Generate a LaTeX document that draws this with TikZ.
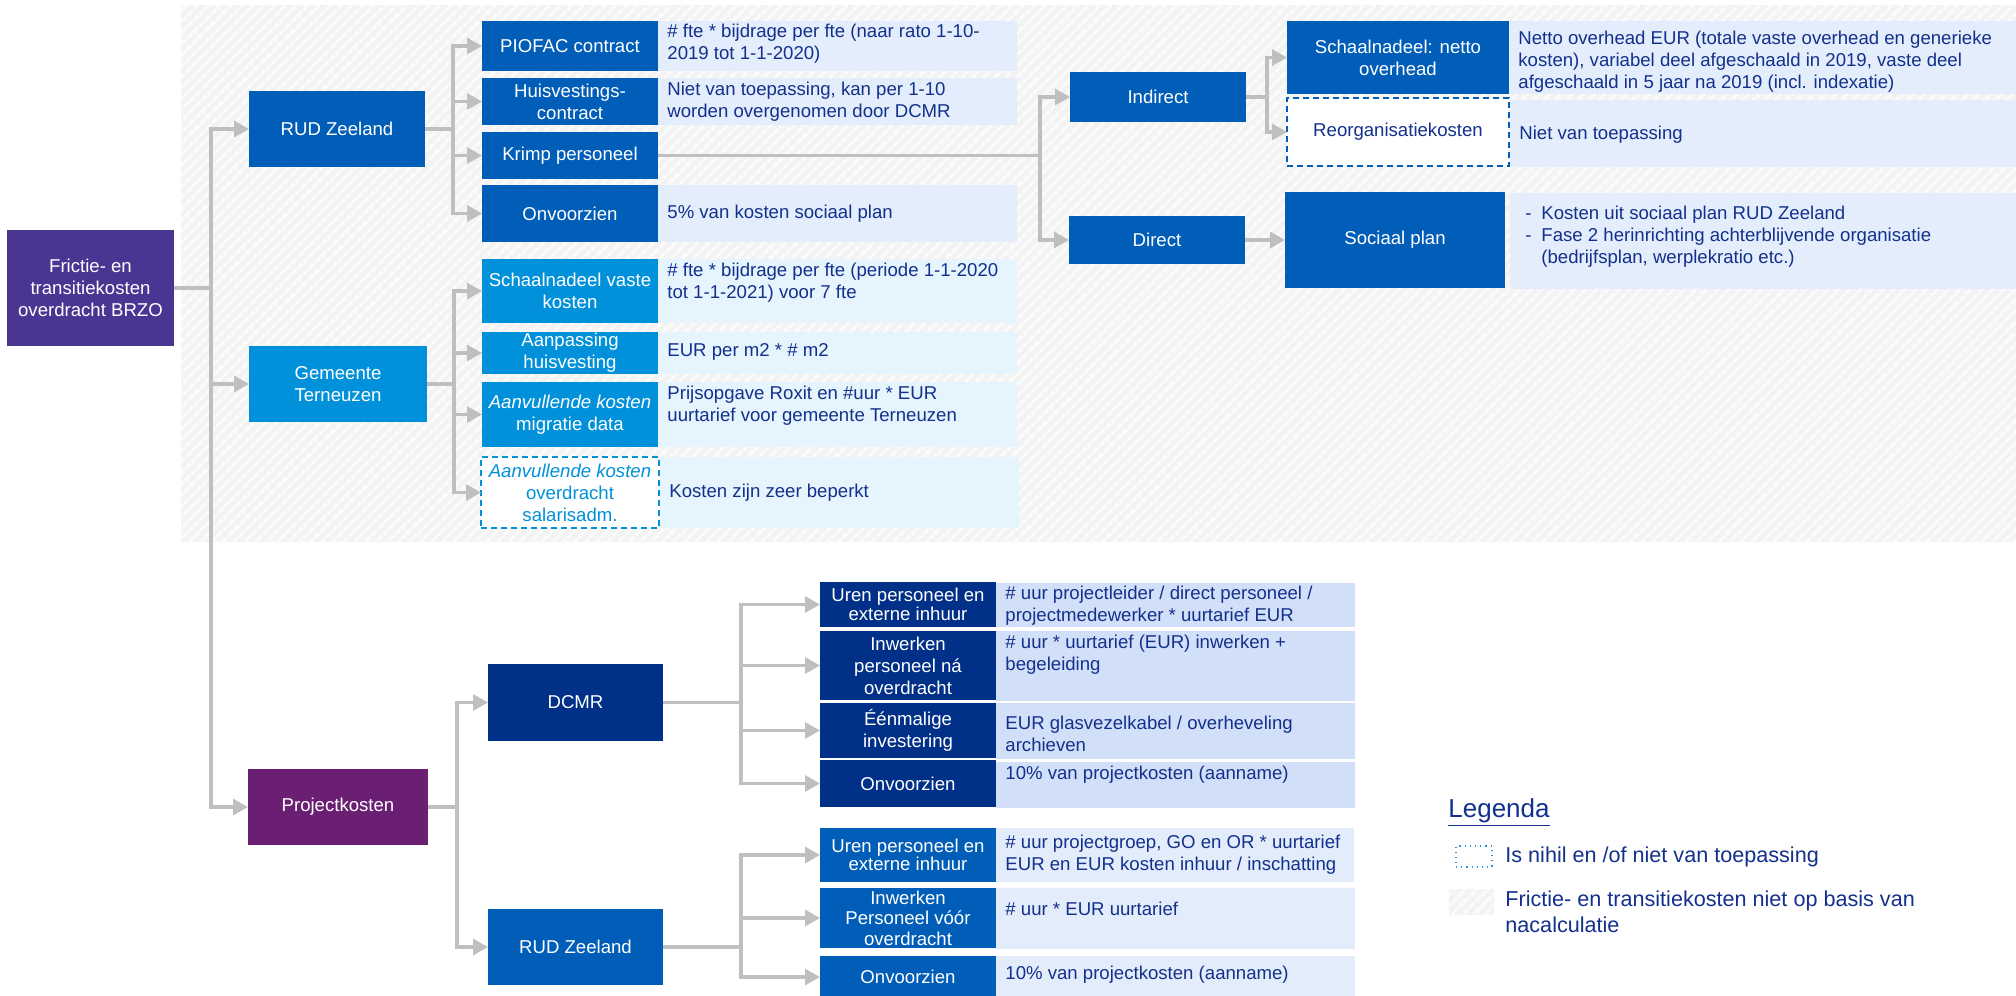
\documentclass[tikz,border=0pt]{standalone}
\usepackage{fontspec}
\setmainfont{Liberation Sans}
\usetikzlibrary{arrows.meta,patterns.meta,calc}
\definecolor{rootpurple}{HTML}{4A3592}
\definecolor{projpurple}{HTML}{6B1F73}
\definecolor{rudblue}{HTML}{005EB8}
\definecolor{gemblue}{HTML}{0091DA}
\definecolor{dcmrnavy}{HTML}{003087}
\definecolor{descA}{HTML}{E4EDFB}
\definecolor{descB}{HTML}{E5F4FD}
\definecolor{descC}{HTML}{D2DFF8}
\definecolor{descD}{HTML}{E3ECFB}
\definecolor{textnavy}{HTML}{13308C}
\definecolor{conngray}{HTML}{BFBFBF}
\definecolor{bggray}{HTML}{F3F3F3}
\definecolor{hatchlight}{HTML}{FBFBFB}
\definecolor{dashblue}{HTML}{2E8FDB}
\newcommand\bx[7]{%
  \pgfmathsetmacro\myW{(#4-#2)*0.5}%
  \pgfmathsetmacro\myH{(#5-#3)*0.5}%
  \node[#6, minimum width=\myW pt, minimum height=\myH pt] (#1) at ({(#2+#4)/2},{(#3+#5)/2}) {#7};}
\newcommand\dbox[8]{%
  \pgfmathsetmacro\myW{(#4-#2)*0.5}%
  \pgfmathsetmacro\myH{(#5-#3)*0.5}%
  \node[#6, minimum width=\myW pt, minimum height=\myH pt] (#1) at ({(#2+#4)/2},{(#3+#5)/2}) {};
  \node[dtext, anchor=west] (#1t) at ($(#1.west)+(9,#7)$) {#8};}
\begin{document}
\begin{tikzpicture}[x=0.5pt,y=-0.5pt,
  basebox/.style={rectangle, inner sep=0pt, outer sep=0pt, align=center, text=white,
    font=\fontsize{9.3}{11}\selectfont},
  tight/.style={font=\fontsize{9.3}{9.3}\selectfont},
  mid/.style={font=\fontsize{9.3}{10.2}\selectfont},
  rootbox/.style={basebox, fill=rootpurple},
  projbox/.style={basebox, fill=projpurple},
  rudbox/.style={basebox, fill=rudblue},
  gembox/.style={basebox, fill=gemblue},
  dcmrbox/.style={basebox, fill=dcmrnavy},
  dashgem/.style={basebox, fill=white, draw=gemblue, line width=0.9pt, dash pattern=on 3pt off 2pt, text=gemblue},
  dashrud/.style={basebox, fill=white, draw=rudblue, line width=0.9pt, dash pattern=on 3pt off 2pt, text=textnavy},
  dA/.style={rectangle, inner sep=0pt, outer sep=0pt, fill=descA},
  dB/.style={rectangle, inner sep=0pt, outer sep=0pt, fill=descB},
  dC/.style={rectangle, inner sep=0pt, outer sep=0pt, fill=descC},
  dD/.style={rectangle, inner sep=0pt, outer sep=0pt, fill=descD},
  dtext/.style={inner sep=0pt, align=left, text=textnavy, font=\fontsize{9.3}{11}\selectfont},
  conn/.style={draw=conngray, line width=1.6pt},
  arr/.style={conn, -{Triangle[length=7.5pt,width=8pt]}},
  legtext/.style={inner sep=0pt, align=left, text=textnavy, font=\fontsize{10.8}{13}\selectfont},
  hatchbg/.style={pattern={Lines[angle=45,distance=4pt,line width=1.6pt]}, pattern color=hatchlight},
  legdot/.style={rectangle, inner sep=0pt, outer sep=0pt, draw=dashblue, line width=0.6pt, dotted, fill=white},
  leghatch/.style={rectangle, inner sep=0pt, outer sep=0pt, fill=bggray, postaction={hatchbg}}
]
\useasboundingbox (0,0) rectangle (2016,995);
\fill[white] (0,0) rectangle (2016,995);
% hatched background
\fill[bggray] (181,5) rectangle (2016,542);
\fill[hatchbg] (181,5) rectangle (2016,542);

% main nodes
\bx{root}{7}{230}{174}{346}{rootbox}{Frictie- en\\transitiekosten\\overdracht BRZO}
\bx{rud}{249}{91}{425}{167}{rudbox}{RUD Zeeland}
\bx{gem}{249}{346}{427}{422}{gembox}{Gemeente\\Terneuzen}
\bx{proj}{248}{769}{428}{845}{projbox}{Projectkosten}

% RUD Zeeland children
\bx{piofac}{482}{21}{658}{71}{rudbox}{PIOFAC contract}
\dbox{piofacd}{658}{21}{1017}{71}{dA}{-2}{\# fte * bijdrage per fte (naar rato 1-10-\\2019 tot 1-1-2020)}
\bx{huis}{482}{78}{658}{125}{rudbox}{Huisvestings-\\contract}
\dbox{huisd}{658}{78}{1017}{125}{dA}{0}{Niet van toepassing, kan per 1-10\\worden overgenomen door DCMR}
\bx{krimp}{482}{132}{658}{179}{rudbox}{Krimp personeel}
\bx{onv1}{482}{185}{658}{242}{rudbox}{Onvoorzien}
\dbox{onv1d}{658}{185}{1017}{242}{dA}{0}{5\% van kosten sociaal plan}

% Gemeente Terneuzen children
\bx{schaal}{482}{259}{658}{323}{gembox}{Schaalnadeel vaste\\kosten}
\dbox{schaald}{658}{259}{1017}{323}{dB}{-8}{\# fte * bijdrage per fte (periode 1-1-2020\\tot 1-1-2021) voor 7 fte}
\bx{aanp}{482}{332}{658}{374}{gembox}{Aanpassing\\huisvesting}
\dbox{aanpd}{658}{332}{1017}{374}{dB}{-1}{EUR per m2 * \# m2}
\bx{migr}{482}{382}{658}{447}{gembox}{\textit{Aanvullende kosten}\\migratie data}
\dbox{migrd}{658}{382}{1017}{447}{dB}{-9}{Prijsopgave Roxit en \#uur * EUR\\uurtarief voor gemeente Terneuzen}
\bx{sal}{481}{457}{659}{528}{dashgem}{\textit{Aanvullende kosten}\\overdracht\\salarisadm.}
\dbox{sald}{660}{457}{1019}{528}{dB}{0}{Kosten zijn zeer beperkt}

% Indirect / Direct
\bx{ind}{1070}{72}{1246}{122}{rudbox}{Indirect}
\bx{dir}{1069}{216}{1245}{264}{rudbox}{Direct}
\bx{schn}{1287}{21}{1509}{94}{rudbox}{Schaalnadeel: netto\\overhead}
\dbox{schnd}{1509}{21}{2016}{94}{dA}{4}{Netto overhead EUR (totale vaste overhead en generieke\\kosten), variabel deel afgeschaald in 2019, vaste deel\\afgeschaald in 5 jaar na 2019 (incl. indexatie)}
\bx{reorg}{1287}{98}{1509}{166}{dashrud}{Reorganisatiekosten}
\dbox{reorgd}{1510}{100}{2016}{167}{dA}{1}{Niet van toepassing}
\bx{soc}{1285}{192}{1505}{288}{rudbox}{Sociaal plan}
\dbox{socd}{1510}{193}{2016}{289}{dA}{-4}{\hspace*{3pt}\makebox[8pt][l]{-}Kosten uit sociaal plan RUD Zeeland\\\hspace*{3pt}\makebox[8pt][l]{-}Fase 2 herinrichting achterblijvende organisatie\\\hspace*{11pt}(bedrijfsplan, werplekratio etc.)}

% Projectkosten
\bx{dcmr}{488}{664}{663}{741}{dcmrbox}{DCMR}
\bx{rud2}{488}{909}{663}{985}{rudbox}{RUD Zeeland}

\bx{uren1}{820}{582}{996}{627}{dcmrbox,tight}{Uren personeel en\\externe inhuur}
\dbox{uren1d}{996}{583}{1355}{627}{dC}{1}{\# uur projectleider / direct personeel /\\projectmedewerker * uurtarief EUR}
\bx{inw1}{820}{631}{996}{700}{dcmrbox}{Inwerken\\personeel ná\\overdracht}
\dbox{inw1d}{996}{631}{1355}{701}{dC}{-11}{\# uur * uurtarief (EUR) inwerken +\\begeleiding}
\bx{een}{820}{703}{996}{758}{dcmrbox}{Éénmalige\\investering}
\dbox{eend}{996}{703}{1355}{759}{dC}{3}{EUR glasvezelkabel / overheveling\\archieven}
\bx{onv2}{820}{760}{996}{807}{dcmrbox}{Onvoorzien}
\dbox{onv2d}{996}{762}{1355}{808}{dC}{-10}{10\% van projectkosten (aanname)}

\bx{uren2}{820}{828}{996}{882}{rudbox,tight}{Uren personeel en\\externe inhuur}
\dbox{uren2d}{996}{828}{1354}{882}{dD}{0}{\# uur projectgroep, GO en OR * uurtarief\\EUR en EUR kosten inhuur / inschatting}
\bx{inw2}{820}{888}{996}{948}{rudbox,mid}{Inwerken\\Personeel vóór\\overdracht}
\dbox{inw2d}{996}{888}{1355}{949}{dD}{-10}{\# uur * EUR uurtarief}
\bx{onv3}{820}{956}{996}{998}{rudbox}{Onvoorzien}
\dbox{onv3d}{996}{956}{1355}{998}{dD}{-2}{10\% van projectkosten (aanname)}

% connectors
\coordinate (t0) at (211,288);
\draw[conn] (root.east) -- (t0);
\draw[arr] (t0) |- (rud.west);
\draw[arr] (t0) |- (gem.west);
\draw[arr] (t0) |- (proj.west);

\coordinate (b0) at (453,129);
\draw[conn] (rud.east) -- (b0);
\draw[arr] (b0) |- (piofac.west);
\draw[arr] (b0) |- (huis.west);
\draw[arr] (b0) |- (krimp.west);
\draw[arr] (b0) |- (onv1.west);

\coordinate (b1) at (454,384);
\draw[conn] (gem.east) -- (b1);
\draw[arr] (b1) |- (schaal.west);
\draw[arr] (b1) |- (aanp.west);
\draw[arr] (b1) |- (migr.west);
\draw[arr] (b1) |- (sal.west);

\coordinate (b2) at (1040,155.5);
\draw[conn] (krimp.east) -- (b2);
\draw[arr] (b2) |- (ind.west);
\draw[arr] (b2) |- (dir.west);

\coordinate (b3) at (1267,97);
\draw[conn] (ind.east) -- (b3);
\draw[arr] (b3) |- (schn.west);
\draw[arr] (b3) |- (reorg.west);
\draw[arr] (dir.east) -- (soc.west);

\coordinate (b4) at (457,807);
\draw[conn] (proj.east) -- (b4);
\draw[arr] (b4) |- (dcmr.west);
\draw[arr] (b4) |- (rud2.west);

\coordinate (b5) at (741,702.5);
\draw[conn] (dcmr.east) -- (b5);
\draw[arr] (b5) |- (uren1.west);
\draw[arr] (b5) |- (inw1.west);
\draw[arr] (b5) |- (een.west);
\draw[arr] (b5) |- (onv2.west);

\coordinate (b6) at (741,947);
\draw[conn] (rud2.east) -- (b6);
\draw[arr] (b6) |- (uren2.west);
\draw[arr] (b6) |- (inw2.west);
\draw[arr] (b6) |- (onv3.west);

% legend
\node[inner sep=0pt, anchor=base west, text=textnavy, font=\fontsize{13}{15}\selectfont] (leg) at (1448,817) {\underline{Legenda}};
\bx{leg1}{1456}{846}{1492}{867}{legdot}{}
\node[legtext, anchor=west] (leg1t) at (1505,857) {Is nihil en /of niet van toepassing};
\bx{leg2}{1449}{889}{1494}{915}{leghatch}{}
\node[legtext, anchor=west] (leg2t) at (1505,912) {Frictie- en transitiekosten niet op basis van\\nacalculatie};
\end{tikzpicture}
\end{document}
